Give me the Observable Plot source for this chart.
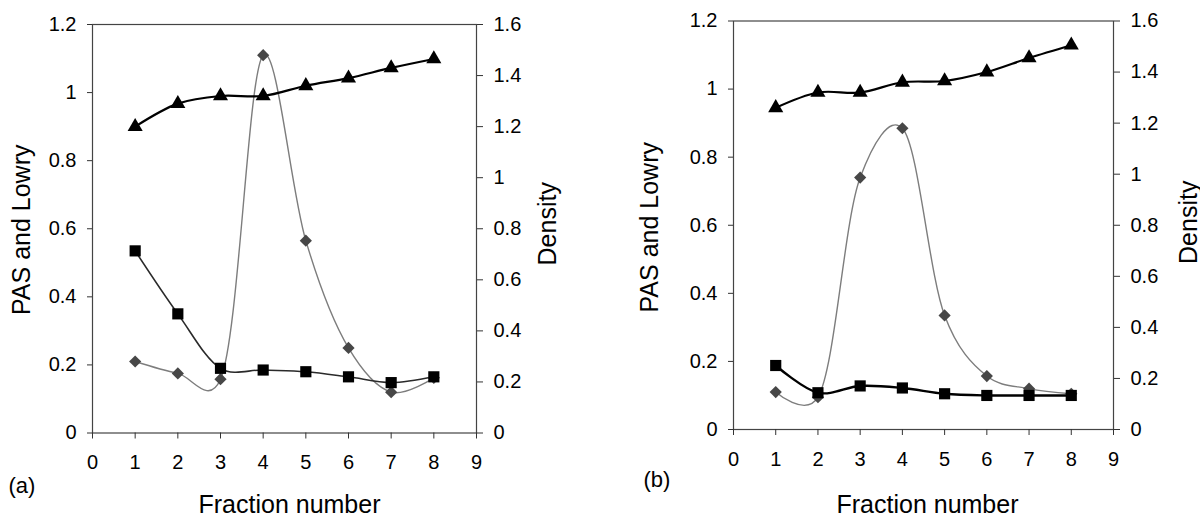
<!DOCTYPE html>
<html>
<head>
<meta charset="utf-8">
<script src="https://cdn.jsdelivr.net/npm/d3@7"></script>
<script src="https://cdn.jsdelivr.net/npm/@observablehq/plot@0.6"></script>
<style>
  html, body { margin: 0; padding: 0; background: #fff; }
  #wrap { display: flex; width: 1200px; height: 520px; }
  #wrap svg { display: block; }
</style>
</head>
<body>
<div id="wrap"></div>
<script>
// ---- data ----
const fractions = [1, 2, 3, 4, 5, 6, 7, 8];

// panel (a)
const densityA = [1.2, 1.29, 1.32, 1.32, 1.36, 1.39, 1.43, 1.465];   // triangles, right axis
const squaresA = [0.535, 0.35, 0.19, 0.185, 0.18, 0.165, 0.148, 0.165]; // squares, left axis
const diamondsA = [0.21, 0.175, 0.158, 1.11, 0.565, 0.25, 0.12, 0.162]; // diamonds, left axis

// panel (b)
const densityB = [1.26, 1.32, 1.32, 1.36, 1.365, 1.40, 1.455, 1.505];
const squaresB = [0.188, 0.108, 0.128, 0.122, 0.105, 0.1, 0.1, 0.1];
const diamondsB = [0.11, 0.095, 0.74, 0.885, 0.335, 0.157, 0.12, 0.105];

// axes / labels
const xTicks = [0, 1, 2, 3, 4, 5, 6, 7, 8, 9];
const leftTicks = [0, 0.2, 0.4, 0.6, 0.8, 1.0, 1.2];
const rightTicks = [0, 0.2, 0.4, 0.6, 0.8, 1.0, 1.2, 1.4, 1.6];
const leftDomain = [0, 1.2];
const rightDomain = [0, 1.6];
const xDomain = [0, 9];
const leftTitle = "PAS and Lowry";
const rightTitle = "Density";
const xTitle = "Fraction number";
const panelLabels = ["(a)", "(b)"];

// ---- drawing ----
const fmt = v => String(+(+v).toFixed(2));
// map the density (right) axis onto the left scale
const toLeft = d3.scaleLinear().domain(rightDomain).range(leftDomain);
const smooth = {curve: "catmull-rom", tension: 0.2};

function panel(cfg) {
  const rows = fractions.map((f, i) => ({
    f,
    dens: toLeft(cfg.density[i]),
    sq: cfg.squares[i],
    dia: cfg.diamonds[i]
  }));
  const m = cfg.margins;
  return Plot.plot({
    width: 600,
    height: 520,
    marginLeft: m.left,
    marginRight: m.right,
    marginTop: m.top,
    marginBottom: m.bottom,
    x: {domain: xDomain, label: null},
    y: {domain: leftDomain, label: null},
    style: {fontFamily: "'Liberation Sans', Arial, sans-serif", fontSize: "20px", color: "#000", background: "#fff", overflow: "visible"},
    marks: [
      Plot.frame({stroke: "#444", strokeWidth: 1.2}),
      Plot.axisX({ticks: xTicks, tickSize: 6, tickPadding: 16, tickFormat: fmt, label: null, stroke: "#333"}),
      Plot.axisY({anchor: "left", ticks: leftTicks, tickSize: 5, tickPadding: 11, tickFormat: fmt, label: null, stroke: "#333"}),
      Plot.axisY({anchor: "right", ticks: rightTicks.map(toLeft), tickSize: 6, tickPadding: 11,
                  tickFormat: v => fmt(toLeft.invert(v)), label: null, stroke: "#333"}),
      Plot.line(rows, {x: "f", y: "dia", ...smooth, stroke: "#7d7d7d", strokeWidth: 1.4}),
      Plot.line(rows, {x: "f", y: "sq", ...smooth, stroke: cfg.sqLine, strokeWidth: cfg.sqWidth}),
      Plot.line(rows, {x: "f", y: "dens", ...smooth, stroke: "#000", strokeWidth: 2.2}),
      Plot.dot(rows, {x: "f", y: "dia", symbol: "diamond2", r: 5.5, fill: "#474747", stroke: "none"}),
      Plot.dot(rows, {x: "f", y: "sq", symbol: "square", r: 6.3, fill: "#000", stroke: "none"}),
      Plot.dot(rows, {x: "f", y: "dens", symbol: "triangle", r: 5.6, fill: "#000", stroke: "none"}),
      Plot.text([leftTitle], {frameAnchor: "left", text: d => d, rotate: -90, fontSize: 25,
                              textAnchor: "middle", lineAnchor: "middle", dx: cfg.t.leftDx, dy: cfg.t.leftDy, fill: "#000"}),
      Plot.text([rightTitle], {frameAnchor: "right", text: d => d, rotate: -90, fontSize: 25,
                               textAnchor: "middle", lineAnchor: "middle", dx: cfg.t.rightDx, dy: cfg.t.rightDy, fill: "#000"}),
      Plot.text([xTitle], {frameAnchor: "bottom", text: d => d, fontSize: 25,
                           textAnchor: "middle", lineAnchor: "middle", dx: cfg.t.xDx, dy: cfg.t.xDy, fill: "#000"}),
      Plot.text([cfg.label], {frameAnchor: "bottom-left", text: d => d, fontSize: 22,
                              textAnchor: "start", lineAnchor: "middle", dx: cfg.t.labDx, dy: cfg.t.labDy, fill: "#000"})
    ]
  });
}

const wrap = document.getElementById("wrap");
wrap.appendChild(panel({
  density: densityA, squares: squaresA, diamonds: diamondsA, label: panelLabels[0],
  margins: {left: 92, right: 124, top: 24, bottom: 87.5},
  sqLine: "#2a2a2a", sqWidth: 1.6,
  t: {leftDx: -71, leftDy: 1, rightDx: 71.5, rightDy: -5, xDx: 5, xDy: 72, labDx: -84, labDy: 52.5}
}));
wrap.appendChild(panel({
  density: densityB, squares: squaresB, diamonds: diamondsB, label: panelLabels[1],
  margins: {left: 133, right: 87, top: 20.5, bottom: 91},
  sqLine: "#000", sqWidth: 2.4,
  t: {leftDx: -84, leftDy: 2, rightDx: 75, rightDy: -3, xDx: 4, xDy: 75, labDx: -90, labDy: 50}
}));
</script>
</body>
</html>
